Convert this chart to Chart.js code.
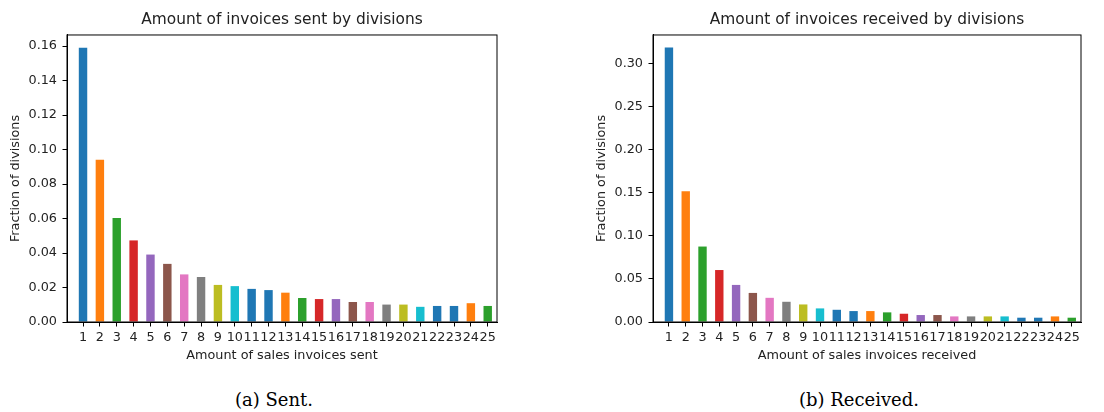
<!DOCTYPE html>
<html>
<head>
<meta charset="utf-8">
<script src="https://cdn.jsdelivr.net/npm/chart.js@4.4.1/dist/chart.umd.min.js"></script>
<style>
  body { margin: 0; background: #fff; width: 1104px; height: 412px; position: relative; overflow: hidden; }
  .box { position: absolute; top: 0; }
  .cap { position: absolute; top: 389px; font-family: 'DejaVu Serif', serif; font-size: 18px; line-height: 21px; color: #000; transform: translateX(-50%); white-space: nowrap; }
</style>
</head>
<body>
<div class="box" style="left:0"><canvas id="sent" width="540" height="372"></canvas></div>
<div class="box" style="left:560px"><canvas id="received" width="544" height="372"></canvas></div>
<div class="cap" style="left:274px">(a) Sent.</div>
<div class="cap" style="left:859px">(b) Received.</div>
<script>
const amounts = [1, 2, 3, 4, 5, 6, 7, 8, 9, 10, 11, 12, 13, 14, 15, 16, 17, 18, 19, 20, 21, 22, 23, 24, 25];
const sentFraction = [0.159, 0.094, 0.0603, 0.0473, 0.0391, 0.0337, 0.0276, 0.0261, 0.0215, 0.0208,
  0.0192, 0.0185, 0.0170, 0.0139, 0.0133, 0.0133, 0.0116, 0.0116, 0.0101, 0.0101,
  0.0088, 0.0093, 0.0093, 0.0109, 0.0093];
const receivedFraction = [0.319, 0.152, 0.0877, 0.0604, 0.0431, 0.0338, 0.0281, 0.0235, 0.0204, 0.0158,
  0.0142, 0.0127, 0.0127, 0.0112, 0.0096, 0.0081, 0.0081, 0.0065, 0.0065, 0.0065,
  0.0065, 0.0050, 0.0050, 0.0065, 0.0050];
const sentTicks = [0, 0.02, 0.04, 0.06, 0.08, 0.10, 0.12, 0.14, 0.16];
const receivedTicks = [0, 0.05, 0.10, 0.15, 0.20, 0.25, 0.30];

// pandas-style colour cycle (blue shows up twice around 11/12 and 22/23)
const tab = ['#1f77b4', '#ff7f0e', '#2ca02c', '#d62728', '#9467bd', '#8c564b', '#e377c2', '#7f7f7f', '#bcbd22', '#17becf', '#1f77b4'];
const barColors = amounts.map((a, i) => tab[i % 11]);

Chart.defaults.font.family = "'DejaVu Sans', sans-serif";
Chart.defaults.font.size = 12.8;
Chart.defaults.color = '#222';

// matplotlib draws a box around the whole axes
const frame = {
  id: 'frame',
  afterDraw(chart) {
    const { ctx, chartArea: a } = chart;
    ctx.save();
    ctx.strokeStyle = '#000';
    ctx.lineWidth = 1;
    ctx.strokeRect(a.left, a.top, a.right - a.left, a.bottom - a.top);
    ctx.restore();
  }
};

function makeChart(id, values, yTicks, yMax, title, xTitle, padLeft, padRight) {
  return new Chart(document.getElementById(id), {
    type: 'bar',
    data: {
      datasets: [{
        data: amounts.map((a, i) => ({ x: a, y: values[i] })),
        backgroundColor: barColors,
        barPercentage: 0.5,
        categoryPercentage: 1
      }]
    },
    options: {
      responsive: false,
      animation: false,
      layout: { padding: { left: padLeft, right: padRight, top: 0, bottom: 5 } },
      plugins: {
        legend: { display: false },
        tooltip: { enabled: false },
        title: {
          display: true,
          text: title,
          fullSize: false,
          color: '#222',
          font: { size: 15.4, weight: 'normal' },
          padding: { top: 11, bottom: 5.5 }
        }
      },
      scales: {
        x: {
          type: 'linear',
          min: 0.05,
          max: 25.55,
          offset: false,
          afterBuildTicks: s => { s.ticks = amounts.map(v => ({ value: v })); },
          afterFit: s => { s.height = 45; },
          ticks: { autoSkip: false, maxRotation: 0, padding: 3.5, callback: v => String(v) },
          grid: { drawOnChartArea: false, offset: false, tickLength: 4.5, color: '#000' },
          border: { color: '#000' },
          title: { display: true, text: xTitle, padding: { top: 4, bottom: 4 } }
        },
        y: {
          min: 0,
          max: yMax,
          afterBuildTicks: s => { s.ticks = yTicks.map(v => ({ value: v })); },
          afterFit: s => { s.width = 63; },
          ticks: { padding: 5.5, callback: v => v.toFixed(2) },
          grid: { drawOnChartArea: false, tickLength: 4.5, color: '#000' },
          border: { color: '#000' },
          title: { display: true, text: 'Fraction of divisions', padding: { top: 4, bottom: 4 } }
        }
      }
    },
    plugins: [frame]
  });
}

makeChart('sent', sentFraction, sentTicks, 0.1664, 'Amount of invoices sent by divisions',
  'Amount of sales invoices sent', 4, 43);
makeChart('received', receivedFraction, receivedTicks, 0.3336, 'Amount of invoices received by divisions',
  'Amount of sales invoices received', 30, 23);
</script>
</body>
</html>
